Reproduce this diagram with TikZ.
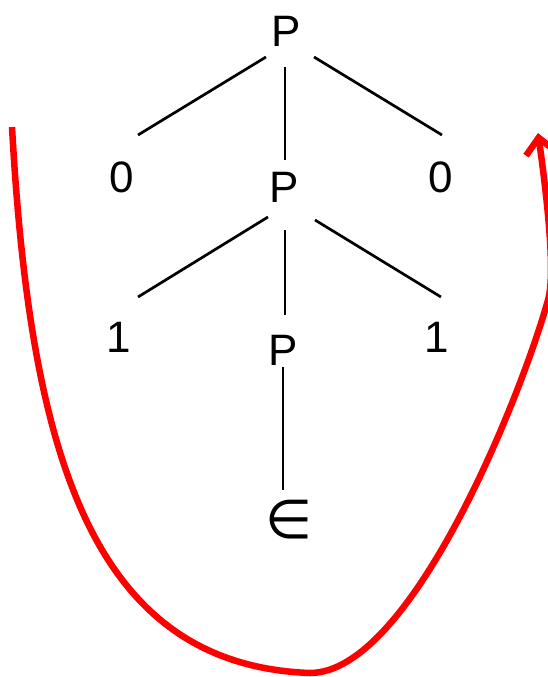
\documentclass[tikz,border=0pt]{standalone}
\usepackage{fontspec}
\setmainfont{Liberation Sans}
\newfontfamily\symfont{DejaVu Sans}
\usetikzlibrary{arrows.meta}
\begin{document}
\begin{tikzpicture}[x=1pt,y=-1pt,
  lbl/.style={font=\fontsize{44}{48}\selectfont, inner sep=0pt},
  edge/.style={line width=2.7pt, black},
  loop/.style={line width=6.5pt, red, line join=round}]
\useasboundingbox (0,0) rectangle (548,677);
\node[lbl] (top) at (286,31) {P};
\node[lbl] (zl) at (122,177) {0};
\node[lbl] (mid) at (284,187) {P};
\node[lbl] (zr) at (441,177) {0};
\node[lbl] (ol) at (119,337) {1};
\node[lbl] (low) at (283,350) {P};
\node[lbl] (or) at (437,337) {1};
\node[font=\symfont\fontsize{54}{58}\selectfont, inner sep=0pt] (eps) at (289,520) {∈};
% connectors
\draw[edge] ([shift={(-20,26)}]top.center) -- ([shift={(16,-42)}]zl.center);
\draw[edge] ([shift={(-1,36)}]top.center) -- ([shift={(1,-27)}]mid.center);
\draw[edge] ([shift={(28,26)}]top.center) -- ([shift={(1,-42)}]zr.center);
\draw[edge] ([shift={(-16,30)}]mid.center) -- ([shift={(19,-40)}]ol.center);
\draw[edge] ([shift={(1,43)}]mid.center) -- ([shift={(2,-35)}]low.center);
\draw[edge] ([shift={(31,33)}]mid.center) -- ([shift={(4,-40)}]or.center);
\draw[edge] ([shift={(0,17)}]low.center) -- ([shift={(-6,-30)}]eps.center);
% red loop
\coordinate (s) at (12,127);
\coordinate (b) at (310,673);
\coordinate (r) at (548,300);
\coordinate (e) at (538,133);
\draw[loop, -{Straight Barb[length=16pt,width=30pt]}]
  (s) .. controls (30,450) and (90,665) .. (b)
      .. controls (410,673) and (520,400) .. (r)
      .. controls (556,272) and (546,190) .. (e);
\end{tikzpicture}
\end{document}
